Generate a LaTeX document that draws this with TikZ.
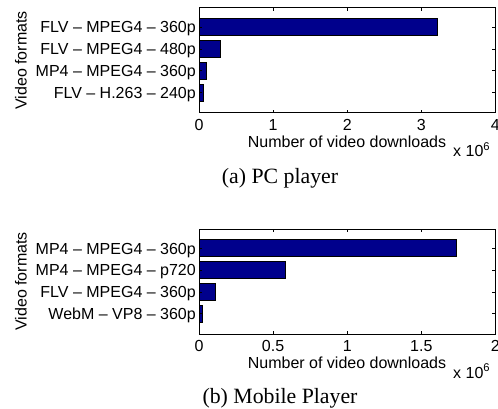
\documentclass[tikz,border=0pt]{standalone}
\usepackage{fontspec}
\setmainfont{Liberation Serif}
\setsansfont{Liberation Sans}
\definecolor{barblue}{RGB}{0,0,140}
\begin{document}
\begin{tikzpicture}[x=1pt,y=-1pt,
  axisframe/.style={line width=1pt},
  bar/.style={fill=barblue,draw=black,line width=0.6pt},
  tickmark/.style={line width=0.6pt},
  lbl/.style={font=\sffamily\fontsize{16}{16}\selectfont,inner sep=0pt},
  captxt/.style={font=\rmfamily\fontsize{21.8}{21.8}\selectfont,inner sep=0pt}]
\useasboundingbox (0,0) rectangle (498,409);
\fill[white] (0,0) rectangle (498,409);
% ---------- top plot ----------
\begin{scope}
  \def\sc{74.1}
  \foreach \v/\c in {3.22/27.2,0.29/49,0.10/70.8,0.06/92.6}{
    \draw[bar] (199,\c-8.5) rectangle ({199+\v*\sc},\c+8.5);
  }
  \foreach \c in {27.2,49,70.8,92.6}{
    \draw[tickmark] (199,\c) -- (202,\c);
    \draw[tickmark] (495.4,\c) -- (492.4,\c);
  }
  \foreach \t in {1,2,3}{
    \draw[tickmark] ({199+\t*\sc},8) -- ({199+\t*\sc},11);
    \draw[tickmark] ({199+\t*\sc},113) -- ({199+\t*\sc},110);
  }
  \draw[axisframe] (199,8) rectangle (495.4,113);
  \foreach \t in {0,1,2,3,4}{
    \node[lbl,anchor=north] (xa\t) at ({199+\t*\sc},119) {\t};
  }
  \node[lbl,anchor=base east] (ya1) at (196,33) {FLV – MPEG4 – 360p};
  \node[lbl,anchor=base east] (ya2) at (196,54.8) {FLV – MPEG4 – 480p};
  \node[lbl,anchor=base east] (ya3) at (196,76.6) {MP4 – MPEG4 – 360p};
  \node[lbl,anchor=base east] (ya4) at (196,98.4) {FLV – H.263 – 240p};
  \node[lbl,rotate=90] (yla) at (21,60.5) {Video formats};
  \node[lbl,anchor=base] (xla) at (347,147) {Number of video downloads};
  \node[lbl,anchor=base west] (mula) at (453,157) {x 10\textsuperscript{6}};
  \node[captxt,anchor=base] (capa) at (280,183) {(a) PC player};
\end{scope}
% ---------- bottom plot ----------
\begin{scope}[yshift=-221pt]
  \def\sc{148.2}
  \foreach \v/\c in {1.735/27.2,0.584/49,0.108/70.8,0.025/92.6}{
    \draw[bar] (199,\c-8.5) rectangle ({199+\v*\sc},\c+8.5);
  }
  \foreach \c in {27.2,49,70.8,92.6}{
    \draw[tickmark] (199,\c) -- (202,\c);
    \draw[tickmark] (495.4,\c) -- (492.4,\c);
  }
  \foreach \t in {0.5,1,1.5}{
    \draw[tickmark] ({199+\t*\sc},8) -- ({199+\t*\sc},11);
    \draw[tickmark] ({199+\t*\sc},113) -- ({199+\t*\sc},110);
  }
  \draw[axisframe] (199,8) rectangle (495.4,113);
  \foreach \t/\n in {0/0,0.5/1,1/2,1.5/3,2/4}{
    \node[lbl,anchor=north] (xb\n) at ({199+\t*\sc},119) {\t};
  }
  \node[lbl,anchor=base east] (yb1) at (196,33) {MP4 – MPEG4 – 360p};
  \node[lbl,anchor=base east] (yb2) at (196,54.8) {MP4 – MPEG4 – p720};
  \node[lbl,anchor=base east] (yb3) at (196,76.6) {FLV – MPEG4 – 360p};
  \node[lbl,anchor=base east] (yb4) at (196,98.4) {WebM – VP8 – 360p};
  \node[lbl,rotate=90] (ylb) at (21,60.5) {Video formats};
  \node[lbl,anchor=base] (xlb) at (347,147) {Number of video downloads};
  \node[lbl,anchor=base west] (mulb) at (453,157) {x 10\textsuperscript{6}};
  \node[captxt,anchor=base] (capb) at (280,182) {(b) Mobile Player};
\end{scope}
\end{tikzpicture}
\end{document}
